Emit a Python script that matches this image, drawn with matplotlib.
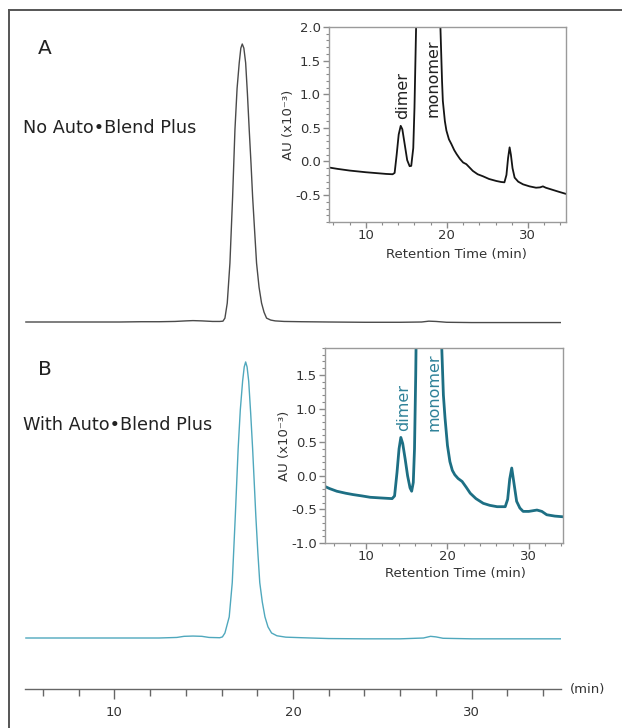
import matplotlib
matplotlib.use("Agg")
import matplotlib.pyplot as plt
from matplotlib.lines import Line2D
from matplotlib.ticker import MultipleLocator

plt.rcParams['font.family'] = ['DejaVu Sans']
plt.rcParams['axes.unicode_minus'] = False

# ---------------- data ----------------
# main chromatogram A (normalised absorbance)
main_a_t = [5.05, 8.0, 10.3, 11.5, 12.5, 13.4, 14.0, 14.4, 14.9, 15.5, 15.9,
            16.08, 16.19, 16.32, 16.47, 16.62, 16.75, 16.87, 16.99, 17.08, 17.16,
            17.25, 17.35, 17.45, 17.55, 17.65, 17.74, 17.85, 17.96, 18.1, 18.24,
            18.38, 18.52, 18.75, 19.0, 19.5, 20.5, 22.0, 24.0, 26.0, 27.2, 27.6,
            28.0, 28.6, 30.0, 32.0, 35.0]
main_a_v = [0.0, 0.0, 0.0, 0.001, 0.001, 0.002, 0.004, 0.005, 0.004, 0.002, 0.002,
            0.003, 0.014, 0.068, 0.212, 0.45, 0.691, 0.84, 0.932, 0.985, 1.0,
            0.985, 0.932, 0.82, 0.691, 0.57, 0.45, 0.33, 0.212, 0.125, 0.068,
            0.035, 0.014, 0.007, 0.004, 0.002, 0.001, 0.0, -0.001, -0.001, 0.0, 0.003,
            0.002, -0.001, -0.002, -0.002, -0.002]

# main chromatogram B
main_b_t = [5.05, 8.0, 10.5, 12.5, 13.5, 13.9, 14.4, 14.9, 15.3, 15.9,
            16.05, 16.19, 16.43, 16.60, 16.77, 16.85, 16.93, 17.05, 17.18, 17.27,
            17.35, 17.43, 17.52, 17.63, 17.74, 17.83, 17.92, 18.03, 18.14, 18.28,
            18.43, 18.6, 18.8, 19.1, 19.6, 20.5, 22.0, 24.0, 26.0, 27.3, 27.7,
            28.0, 28.4, 30.0, 32.0, 35.0]
main_b_v = [0.0, 0.0, 0.0, 0.0, 0.002, 0.006, 0.007, 0.006, 0.002, 0.001,
            0.004, 0.018, 0.076, 0.199, 0.438, 0.56, 0.681, 0.82, 0.924, 0.975,
            0.993, 0.975, 0.924, 0.81, 0.681, 0.56, 0.438, 0.31, 0.199, 0.13,
            0.076, 0.04, 0.018, 0.008, 0.003, 0.001, -0.002, -0.003, -0.003, 0.0, 0.006,
            0.004, -0.001, -0.003, -0.003, -0.003]

# inset A (AU x10^-3)
inset_a_t = [5.48, 6.5, 8.0, 10.0, 11.5, 12.5, 13.3, 13.55, 13.8, 14.05, 14.3,
             14.5, 14.8, 15.1, 15.4, 15.6, 15.85, 16.0, 16.2, 16.4, 19.0, 19.2,
             19.4, 19.5, 19.75, 19.94, 20.25, 20.55, 20.9, 21.2, 21.6, 22.0, 22.4,
             22.8, 23.2, 23.8, 24.45, 25.2, 26.1, 26.7, 27.1, 27.35, 27.55, 27.74,
             27.9, 28.1, 28.36, 28.8, 29.4, 30.2, 31.0, 31.5, 31.85, 32.2, 33.0,
             33.8, 34.64]
inset_a_v = [-0.09, -0.11, -0.135, -0.16, -0.175, -0.185, -0.19, -0.17, 0.1, 0.4, 0.53,
             0.48, 0.25, 0.02, -0.07, -0.065, 0.2, 0.8, 2.0, 3.0, 3.0, 2.0,
             1.2, 0.9, 0.6, 0.46, 0.33, 0.26, 0.17, 0.11, 0.04, -0.015, -0.04,
             -0.09, -0.14, -0.19, -0.22, -0.26, -0.29, -0.305, -0.31, -0.2, 0.05, 0.21,
             0.1, -0.1, -0.24, -0.3, -0.34, -0.37, -0.39, -0.385, -0.37, -0.39, -0.42,
             -0.45, -0.48]

# inset B (AU x10^-3)
inset_b_t = [4.96, 5.5, 6.4, 7.5, 8.4, 9.5, 10.5, 11.8, 13.2, 13.5, 13.8, 14.05,
             14.27, 14.5, 14.8, 15.1, 15.4, 15.6, 15.8, 15.95, 16.1, 16.25, 19.1,
             19.3, 19.5, 19.7, 20.0, 20.3, 20.6, 20.9, 21.3, 21.8, 22.3, 22.8, 23.5,
             24.4, 25.2, 26.1, 27.1, 27.4, 27.65, 27.9, 28.1, 28.5, 28.9, 29.3,
             30.0, 31.0, 31.6, 32.2, 33.2, 34.2]
inset_b_v = [-0.16, -0.19, -0.23, -0.26, -0.28, -0.30, -0.32, -0.33, -0.34, -0.3, 0.05, 0.4,
             0.57, 0.48, 0.25, 0.0, -0.18, -0.23, -0.1, 0.4, 1.5, 3.0, 3.0,
             1.9, 1.2, 0.86, 0.45, 0.21, 0.08, 0.015, -0.04, -0.085, -0.17, -0.26, -0.34,
             -0.41, -0.44, -0.46, -0.46, -0.35, -0.05, 0.115, -0.05, -0.38, -0.48, -0.53,
             -0.53, -0.51, -0.53, -0.58, -0.60, -0.61]

ruler_major = [10, 20, 30]
peak_labels = ["dimer", "monomer"]
panel_letters = ["A", "B"]
panel_titles = ["No Auto\u2022Blend Plus", "With Auto\u2022Blend Plus"]

# ---------------- layout helpers ----------------
W, H = 622, 728
fig = plt.figure(figsize=(W / 100, H / 100), dpi=100)


def px_rect(left, top, right, bottom):
    return [left / W, 1 - bottom / H, (right - left) / W, (bottom - top) / H]


def fx(x):
    return x / W


def fy(y):
    return 1 - y / H


TEAL_DARK = "#1d6f84"
TEAL_TEXT = "#2f8299"
TEAL_MAIN = "#4fa8bd"
GRAY_LINE = "#4a4a4a"

# frame lines
fig.add_artist(Line2D([fx(8.5), fx(8.5)], [fy(10), fy(728)], transform=fig.transFigure,
                      color="#555555", lw=1.4))
fig.add_artist(Line2D([fx(8.5), 1.0], [fy(10), fy(10)], transform=fig.transFigure,
                      color="#555555", lw=1.4))

# ---------------- main traces ----------------
scale = 278.0  # px per unit
for (t, v, color, base_px) in [(main_a_t, main_a_v, GRAY_LINE, 322),
                               (main_b_t, main_b_v, TEAL_MAIN, 638)]:
    top_px, bot_px = base_px - 284, base_px + 8
    ax = fig.add_axes(px_rect(25, top_px, 561, bot_px))
    ax.plot(t, v, color=color, lw=1.0)
    ax.set_xlim(5, 35)
    ax.set_ylim(-8 / scale, 284 / scale)
    ax.axis("off")

# ruler
axr = fig.add_axes(px_rect(25, 679, 561, 689))
axr.set_xlim(5, 35)
axr.set_ylim(0, 1)
for s in ["top", "left", "right"]:
    axr.spines[s].set_visible(False)
axr.spines["bottom"].set_color("#666666")
axr.spines["bottom"].set_linewidth(1.0)
axr.set_yticks([])
axr.set_xticks(ruler_major)
axr.xaxis.set_minor_locator(MultipleLocator(2))
axr.tick_params(axis="x", which="major", length=7, width=1.0, color="#666666",
                labelsize=9.5, labelcolor="#333333", pad=5)
axr.tick_params(axis="x", which="minor", length=5, width=1.0, color="#666666")
axr.patch.set_alpha(0)
fig.text(fx(570), fy(689), "(min)", fontsize=9.5, color="#333333", ha="left", va="center")

# panel texts
fig.text(fx(38), fy(49), panel_letters[0], fontsize=14.5, color="#222222", ha="left", va="center")
fig.text(fx(23), fy(128), panel_titles[0], fontsize=12.7, color="#222222", ha="left", va="center")
fig.text(fx(38), fy(369.5), panel_letters[1], fontsize=14.5, color="#222222", ha="left", va="center")
fig.text(fx(23), fy(425), panel_titles[1], fontsize=12.7, color="#222222", ha="left", va="center")

# ---------------- insets ----------------
insets = [
    dict(rect=(329, 27, 566, 222), t=inset_a_t, v=inset_a_v, xlim=(5.45, 34.7), ylim=(-0.9, 2.0),
         yticks=[-0.5, 0.0, 0.5, 1.0, 1.5, 2.0], color="#151515", lw=1.3, tcolor="#222222",
         lab=[(14.55, 0.63), (18.3, 0.66)], xlab=(0.536, -0.135)),
    dict(rect=(325, 348, 563, 543), t=inset_b_t, v=inset_b_v, xlim=(4.95, 34.2), ylim=(-1.0, 1.9),
         yticks=[-1.0, -0.5, 0.0, 0.5, 1.0, 1.5], color=TEAL_DARK, lw=2.0, tcolor=TEAL_TEXT,
         lab=[(14.67, 0.66), (18.36, 0.66)], xlab=(0.55, -0.125)),
]
for d in insets:
    ax = fig.add_axes(px_rect(*d["rect"]))
    ax.plot(d["t"], d["v"], color=d["color"], lw=d["lw"], solid_joinstyle="round")
    ax.set_xlim(*d["xlim"])
    ax.set_ylim(*d["ylim"])
    ax.set_xticks(ruler_major)
    ax.set_yticks(d["yticks"])
    ax.set_yticklabels([f"{y:.1f}" for y in d["yticks"]])
    ax.xaxis.set_minor_locator(MultipleLocator(2))
    ax.yaxis.set_minor_locator(MultipleLocator(0.1))
    for s in ax.spines.values():
        s.set_color("#9a9a9a")
        s.set_linewidth(1.0)
    ax.tick_params(which="major", direction="out", length=4, width=1.0, color="#8a8a8a",
                   labelsize=9.5, labelcolor="#333333", pad=2)
    ax.tick_params(axis="x", which="major", pad=1)
    ax.tick_params(which="minor", direction="out", length=2.5, width=0.8, color="#8a8a8a")
    ax.set_xlabel("Retention Time (min)", fontsize=9.5, color="#333333")
    ax.xaxis.set_label_coords(*d["xlab"])
    ax.set_ylabel("AU (x10\u207b\u00b3)", fontsize=9.5, color="#333333", labelpad=0)
    for name, (lx, ly) in zip(peak_labels, d["lab"]):
        ax.text(lx, ly, name, rotation=90, ha="center", va="bottom", fontsize=11.5,
                color=d["tcolor"])

fig.savefig("out.png", dpi=100)
